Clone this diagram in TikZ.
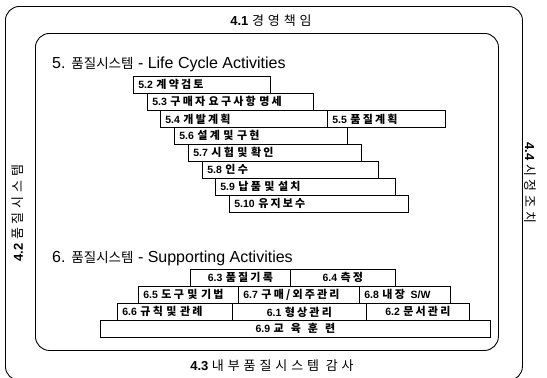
\documentclass[tikz,border=0pt]{standalone}
\usepackage{fontspec}
\setmainfont{Liberation Sans}
\newfontfamily\kr{Noto Sans CJK KR}
\newfontfamily\krw{Noto Sans CJK KR}[LetterSpace=30]
\newfontfamily\krs{Noto Sans CJK KR}[LetterSpace=20]
\newcommand\kor[1]{{\krs\fontsize{11}{12}\selectfont\bfseries #1}}
\begin{document}
\begin{tikzpicture}[x=1pt,y=-1pt,
  frame/.style={draw, line width=0.9pt, rounded corners=14pt, anchor=north west, inner sep=0pt},
  lc/.style={draw, line width=0.7pt, anchor=north west, minimum height=17pt, inner xsep=5pt, inner ysep=0pt, font=\fontsize{10.5}{12}\selectfont, align=left},
  cc/.style={draw, line width=0.7pt, anchor=north west, minimum height=17pt, inner xsep=5pt, inner ysep=0pt, font=\fontsize{10.5}{12}\selectfont, align=center},
  lbl/.style={inner sep=0pt, font=\fontsize{13}{15}\selectfont},
  ttl/.style={anchor=base west, inner sep=0pt, font=\fontsize{16}{18}\selectfont}]
\useasboundingbox (0,0) rectangle (547,378);
\node[frame, minimum width=517pt, minimum height=374pt] (outer) at (5,6) {};
\node[frame, minimum width=463pt, minimum height=317pt] (inner) at (35,33) {};
% frame labels
\node[lbl] (t41) at (271,21) {\textbf{4.1} {\krw 경영책임}};
\node[lbl, rotate=90] (t42) at (18,213) {\textbf{4.2} {\krw 품질시스템}};
\node[lbl, rotate=-90] (t44) at (530,183) {\textbf{4.4} {\krw 시정조치}};
\node[lbl] (t43) at (272,366) {\textbf{4.3} {\krw 내부품질시스템 감사}};
% section titles
\node[ttl] (s5) at (52,68) {5. {\kr\fontsize{13.5}{16}\selectfont 품질시스템} - Life Cycle Activities};
\node[ttl] (s6) at (52,262) {6. {\kr\fontsize{13.5}{16}\selectfont 품질시스템} - Supporting Activities};
% life cycle boxes
\node[lc, minimum width=137pt, text width=127pt] (b52) at (133,76) {\textbf{5.2} \kor{계약검토}};
\node[lc, minimum width=166pt, text width=156pt] (b53) at (147,93) {\textbf{5.3} \kor{구매자 요구사항 명세}};
\node[lc, minimum width=167pt, text width=157pt] (b54) at (160,110) {\textbf{5.4} \kor{개발계획}};
\node[lc, minimum width=118pt, text width=108pt] (b55) at (327,110) {\textbf{5.5} \kor{품질계획}};
\node[lc, minimum width=173pt, text width=163pt] (b56) at (174,127) {\textbf{5.6} \kor{설계 및 구현}};
\node[lc, minimum width=173pt, text width=163pt] (b57) at (188,144) {\textbf{5.7} \kor{시험 및 확인}};
\node[lc, minimum width=176pt, text width=166pt] (b58) at (202,161) {\textbf{5.8} \kor{인수}};
\node[lc, minimum width=180pt, text width=170pt] (b59) at (215,178) {\textbf{5.9} \kor{납품 및 설치}};
\node[lc, minimum width=179pt, text width=169pt] (b510) at (229,195) {\textbf{5.10} \kor{유지보수}};
% supporting boxes
\node[cc, minimum width=100pt, text width=90pt] (b63) at (190,269) {\textbf{6.3} \kor{품질기록}};
\node[cc, minimum width=105pt, text width=95pt] (b64) at (290,269) {\textbf{6.4} \kor{측정}};
\node[lc, minimum width=100pt, text width=90pt] (b65) at (138,286) {\textbf{6.5} \kor{도구 및 기법}};
\node[lc, minimum width=121pt, text width=111pt] (b67) at (238,286) {\textbf{6.7} \kor{구매/외주관리}};
\node[lc, minimum width=91pt, text width=81pt] (b68) at (359,286) {\textbf{6.8} \kor{내장} \textbf{S/W}};
\node[lc, minimum width=115pt, text width=105pt] (b66) at (117,303) {\textbf{6.6} \kor{규칙 및 관례}};
\node[cc, minimum width=134pt, text width=124pt] (b61) at (232,303) {\textbf{6.1} \kor{형상관리}};
\node[cc, minimum width=103pt, text width=93pt] (b62) at (366,303) {\textbf{6.2} \kor{문서관리}};
\node[cc, minimum width=390pt, text width=380pt] (b69) at (100,320) {\textbf{6.9} \kor{교\ \ 육\ \ 훈\ \ 련}};
\end{tikzpicture}
\end{document}
